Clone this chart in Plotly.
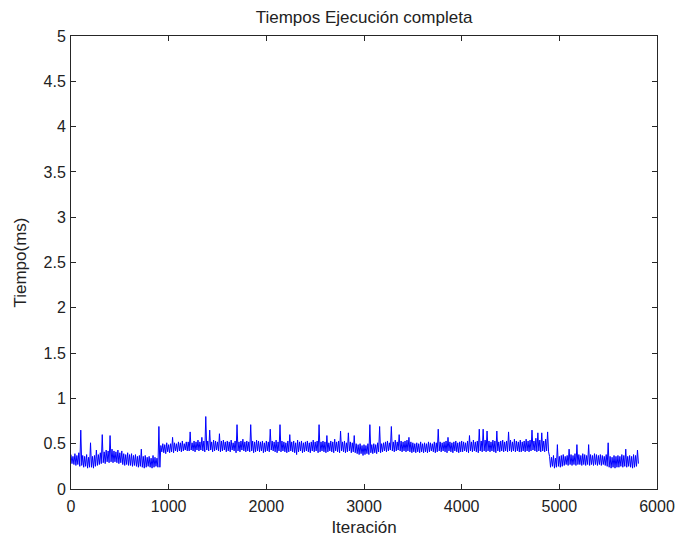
import plotly.graph_objects as go

# Values, one bin every 20 iterations (0 .. 5800):
# upper edge (incl. spikes) and lower edge of the noisy trace in each bin
paso = 20
altos = [
    0.38, 0.36, 0.39, 0.37, 0.40, 0.65, 0.37, 0.36, 0.38, 0.35,
    0.51, 0.36, 0.37, 0.43, 0.38, 0.40, 0.60, 0.41, 0.43, 0.42,
    0.59, 0.44, 0.42, 0.41, 0.43, 0.40, 0.42, 0.39, 0.38, 0.40,
    0.38, 0.39, 0.37, 0.38, 0.36, 0.37, 0.44, 0.36, 0.37, 0.35,
    0.36, 0.34, 0.37, 0.35, 0.34, 0.69, 0.48, 0.50, 0.49, 0.51,
    0.49, 0.50, 0.57, 0.51, 0.50, 0.52, 0.51, 0.53, 0.50, 0.52,
    0.52, 0.63, 0.51, 0.53, 0.52, 0.54, 0.52, 0.57, 0.53, 0.80,
    0.53, 0.65, 0.52, 0.54, 0.53, 0.52, 0.61, 0.53, 0.54, 0.52,
    0.53, 0.52, 0.54, 0.51, 0.53, 0.71, 0.52, 0.53, 0.55, 0.52,
    0.53, 0.52, 0.71, 0.53, 0.52, 0.54, 0.53, 0.52, 0.53, 0.51,
    0.53, 0.52, 0.66, 0.53, 0.52, 0.54, 0.52, 0.71, 0.53, 0.52,
    0.51, 0.53, 0.60, 0.52, 0.53, 0.51, 0.54, 0.52, 0.53, 0.51,
    0.52, 0.53, 0.51, 0.52, 0.54, 0.52, 0.53, 0.71, 0.52, 0.53,
    0.52, 0.59, 0.51, 0.53, 0.52, 0.55, 0.52, 0.53, 0.64, 0.52,
    0.53, 0.51, 0.62, 0.52, 0.51, 0.59, 0.50, 0.49, 0.50, 0.48,
    0.49, 0.48, 0.50, 0.71, 0.49, 0.50, 0.49, 0.51, 0.69, 0.50,
    0.51, 0.52, 0.53, 0.51, 0.69, 0.52, 0.54, 0.52, 0.60, 0.53,
    0.52, 0.53, 0.54, 0.57, 0.52, 0.51, 0.50, 0.51, 0.50, 0.52,
    0.50, 0.51, 0.50, 0.52, 0.51, 0.50, 0.52, 0.51, 0.66, 0.52,
    0.51, 0.52, 0.53, 0.57, 0.52, 0.51, 0.52, 0.53, 0.51, 0.52,
    0.53, 0.52, 0.51, 0.53, 0.59, 0.52, 0.54, 0.52, 0.53, 0.66,
    0.53, 0.66, 0.54, 0.64, 0.53, 0.52, 0.54, 0.53, 0.64, 0.52,
    0.53, 0.54, 0.52, 0.53, 0.63, 0.54, 0.52, 0.55, 0.53, 0.52,
    0.54, 0.52, 0.53, 0.55, 0.53, 0.54, 0.65, 0.53, 0.56, 0.62,
    0.54, 0.62, 0.53, 0.55, 0.63, 0.36, 0.35, 0.37, 0.34, 0.49,
    0.36, 0.37, 0.38, 0.36, 0.37, 0.44, 0.38, 0.37, 0.39, 0.49,
    0.38, 0.37, 0.39, 0.38, 0.37, 0.49, 0.38, 0.37, 0.39, 0.38,
    0.37, 0.38, 0.37, 0.36, 0.38, 0.51, 0.36, 0.35, 0.37, 0.36,
    0.37, 0.36, 0.38, 0.37, 0.44, 0.36, 0.37, 0.36, 0.38, 0.37,
    0.43,
]
bajos = [
    0.28, 0.27, 0.26, 0.27, 0.25, 0.26, 0.24, 0.25, 0.23, 0.24,
    0.24, 0.23, 0.25, 0.26, 0.27, 0.28, 0.29, 0.28, 0.30, 0.29,
    0.30, 0.29, 0.30, 0.29, 0.28, 0.29, 0.27, 0.26, 0.27, 0.26,
    0.26, 0.25, 0.26, 0.25, 0.24, 0.25, 0.24, 0.23, 0.24, 0.25,
    0.24, 0.23, 0.24, 0.25, 0.24, 0.24, 0.41, 0.40, 0.39, 0.41,
    0.40, 0.41, 0.40, 0.42, 0.41, 0.42, 0.41, 0.42, 0.43, 0.42,
    0.42, 0.43, 0.42, 0.41, 0.43, 0.42, 0.43, 0.42, 0.41, 0.43,
    0.42, 0.43, 0.41, 0.42, 0.43, 0.42, 0.41, 0.42, 0.43, 0.41,
    0.42, 0.41, 0.43, 0.42, 0.40, 0.42, 0.41, 0.43, 0.42, 0.41,
    0.42, 0.41, 0.42, 0.40, 0.41, 0.42, 0.41, 0.42, 0.40, 0.41,
    0.42, 0.41, 0.43, 0.42, 0.41, 0.40, 0.42, 0.41, 0.42, 0.41,
    0.40, 0.41, 0.42, 0.41, 0.40, 0.38, 0.41, 0.42, 0.40, 0.41,
    0.42, 0.41, 0.40, 0.42, 0.41, 0.42, 0.40, 0.41, 0.42, 0.41,
    0.40, 0.41, 0.42, 0.41, 0.40, 0.42, 0.41, 0.40, 0.42, 0.41,
    0.40, 0.41, 0.42, 0.40, 0.41, 0.40, 0.39, 0.38, 0.39, 0.37,
    0.38, 0.39, 0.38, 0.40, 0.39, 0.40, 0.39, 0.41, 0.40, 0.41,
    0.42, 0.41, 0.42, 0.43, 0.42, 0.41, 0.42, 0.43, 0.42, 0.41,
    0.42, 0.41, 0.42, 0.41, 0.40, 0.41, 0.40, 0.41, 0.40, 0.41,
    0.40, 0.41, 0.40, 0.41, 0.42, 0.41, 0.40, 0.41, 0.42, 0.41,
    0.42, 0.41, 0.40, 0.42, 0.41, 0.40, 0.42, 0.41, 0.40, 0.41,
    0.41, 0.42, 0.41, 0.40, 0.42, 0.41, 0.42, 0.41, 0.40, 0.42,
    0.41, 0.42, 0.41, 0.42, 0.41, 0.42, 0.41, 0.40, 0.42, 0.41,
    0.42, 0.41, 0.42, 0.41, 0.42, 0.41, 0.42, 0.41, 0.42, 0.41,
    0.41, 0.42, 0.41, 0.42, 0.41, 0.42, 0.43, 0.42, 0.41, 0.42,
    0.41, 0.42, 0.41, 0.42, 0.41, 0.24, 0.25, 0.23, 0.24, 0.25,
    0.24, 0.25, 0.26, 0.27, 0.26, 0.27, 0.26, 0.27, 0.26, 0.27,
    0.27, 0.26, 0.27, 0.26, 0.27, 0.26, 0.27, 0.26, 0.27, 0.26,
    0.27, 0.26, 0.27, 0.26, 0.25, 0.24, 0.23, 0.24, 0.23, 0.24,
    0.24, 0.25, 0.24, 0.25, 0.24, 0.25, 0.24, 0.23, 0.24, 0.25,
    0.28,
]

# the trace alternates between the upper and lower edge inside each bin
iteraciones = []
tiempos = []
for i, (hi, lo) in enumerate(zip(altos, bajos)):
    iteraciones += [i * paso, i * paso + paso / 2]
    tiempos += [hi, lo]

x_ticks = [0, 1000, 2000, 3000, 4000, 5000, 6000]
y_ticks = [0, 0.5, 1, 1.5, 2, 2.5, 3, 3.5, 4, 4.5, 5]
y_ticktext = ["0", "0.5", "1", "1.5", "2", "2.5", "3", "3.5", "4", "4.5", "5"]

titulo = "Tiempos Ejecución completa"
x_titulo = "Iteración"
y_titulo = "Tiempo(ms)"

FONT = "Liberation Sans, Arial, sans-serif"
AX = "#262626"
TXT = "#222222"

W, H = 677, 537

fig = go.Figure()
fig.add_trace(go.Scatter(
    x=iteraciones, y=tiempos, mode="lines",
    line=dict(color="#0000ff", width=1),
    showlegend=False, hoverinfo="skip",
))

axis_common = dict(
    showline=True, linecolor=AX, linewidth=1, mirror="ticks",
    ticks="inside", ticklen=5, tickcolor=AX, tickwidth=1,
    showgrid=False, zeroline=False, automargin=False,
    tickfont=dict(family=FONT, size=16, color=TXT),
)

fig.update_layout(
    width=W, height=H,
    margin=dict(l=71, r=20, t=36, b=48),
    paper_bgcolor="white", plot_bgcolor="white",
    font=dict(family=FONT, color=TXT),
    title=dict(text=titulo, x=(71 + W - 20) / 2 / W, xanchor="center",
               y=1 - 11 / H, yanchor="top", yref="container",
               font=dict(family=FONT, size=17, color=TXT)),
    xaxis=dict(range=[0, 6000], tickvals=x_ticks, ticklabelstandoff=3,
               title=dict(text=x_titulo, standoff=12,
                          font=dict(family=FONT, size=17, color=TXT)),
               **axis_common),
    yaxis=dict(range=[0, 5], tickvals=y_ticks, ticktext=y_ticktext,
               ticklabelstandoff=1,
               title=dict(text=y_titulo, standoff=12,
                          font=dict(family=FONT, size=17, color=TXT)),
               **axis_common),
)

# remove the default page margin so the figure fills the window exactly
fig.write_html(
    "out.html",
    config={"displayModeBar": False, "staticPlot": True},
    post_script="document.body.style.margin='0';"
                "document.body.style.overflow='hidden';",
)
